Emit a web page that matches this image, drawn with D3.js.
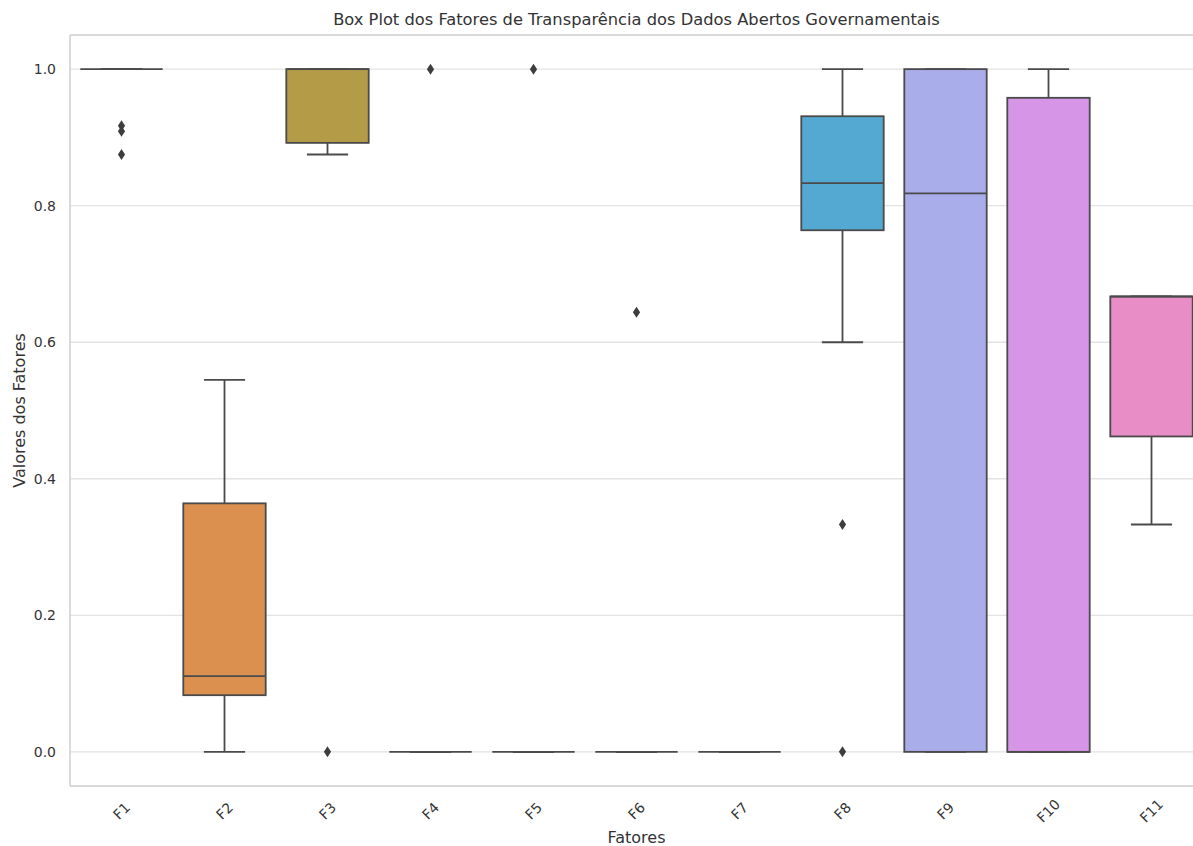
<!DOCTYPE html>
<html>
<head>
<meta charset="utf-8">
<script src="https://cdn.jsdelivr.net/npm/d3@7"></script>
<style>
  body { margin: 0; background: #fff; }
  text { font-family: "DejaVu Sans", sans-serif; fill: #333; }
</style>
</head>
<body>
<div id="chart"></div>
<script>
// box plot stats
const factors   = ["F1", "F2", "F3", "F4", "F5", "F6", "F7", "F8", "F9", "F10", "F11"];
const q1        = [1.0, 0.083, 0.892, 0, 0, 0, 0, 0.764, 0, 0, 0.462];
const medians   = [1.0, 0.111, 1.0, 0, 0, 0, 0, 0.833, 0.818, 0, 0.667];
const q3        = [1.0, 0.364, 1.0, 0, 0, 0, 0, 0.931, 1.0, 0.958, 0.667];
const whiskLo   = [1.0, 0, 0.875, 0, 0, 0, 0, 0.6, 0, 0, 0.333];
const whiskHi   = [1.0, 0.545, 1.0, 0, 0, 0, 0, 1.0, 1.0, 1.0, 0.667];
const outliers  = [[0.917, 0.909, 0.875], [], [0], [1.0], [1.0], [0.644], [], [0.333, 0], [], [], []];
const colors    = ["#e3808b", "#db904f", "#b39b48", "#8fa54a", "#4fad6e", "#53ab9d", "#51a8b8", "#53a9d1",
                   "#a9adea", "#d695e7", "#e98dc7"];
const yTicks    = [0, 0.2, 0.4, 0.6, 0.8, 1.0];

const W = 1193, H = 846;
const margin = {top: 35, left: 70, bottom: 60};
const plotRight = 1203; // axes extend past the right edge of the picture

const svg = d3.select("#chart").append("svg")
    .attr("width", W)
    .attr("height", H);

const x = d3.scaleBand()
    .domain(factors)
    .range([margin.left, plotRight])
    .paddingInner(0.2)
    .paddingOuter(0.1);

const y = d3.scaleLinear()
    .domain([-0.05, 1.05])
    .range([H - margin.bottom, margin.top]);

// grid lines
svg.append("g")
    .selectAll("line")
    .data(yTicks)
    .join("line")
    .attr("x1", margin.left)
    .attr("x2", plotRight)
    .attr("y1", d => y(d))
    .attr("y2", d => y(d))
    .attr("stroke", "#e3e3e3")
    .attr("stroke-width", 1.3);

// y tick labels
svg.append("g")
    .selectAll("text")
    .data(yTicks)
    .join("text")
    .attr("x", margin.left - 14)
    .attr("y", d => y(d))
    .attr("dy", "0.35em")
    .attr("text-anchor", "end")
    .style("font-size", "14px")
    .text(d => d.toFixed(1));

// spines
const spine = (x1, x2, y1, y2) => svg.append("line")
    .attr("x1", x1).attr("x2", x2).attr("y1", y1).attr("y2", y2)
    .attr("stroke", "#cccccc").attr("stroke-width", 1.4);
spine(margin.left, margin.left, margin.top, H - margin.bottom);
spine(margin.left, plotRight, H - margin.bottom, H - margin.bottom);
spine(margin.left, plotRight, margin.top, margin.top);

const lineCol = "#4a4a4a";
const lw = 1.8;
const bw = x.bandwidth();
const idx = d3.range(factors.length);
const cx = i => x(factors[i]) + bw / 2;

const boxes = svg.append("g")
    .selectAll("g")
    .data(idx)
    .join("g");

// whiskers
boxes.append("line")
    .attr("x1", cx).attr("x2", cx)
    .attr("y1", i => y(whiskLo[i]))
    .attr("y2", i => y(q1[i]))
    .attr("stroke", lineCol).attr("stroke-width", lw);
boxes.append("line")
    .attr("x1", cx).attr("x2", cx)
    .attr("y1", i => y(q3[i]))
    .attr("y2", i => y(whiskHi[i]))
    .attr("stroke", lineCol).attr("stroke-width", lw);

// caps
boxes.append("line")
    .attr("x1", i => x(factors[i]) + bw * 0.25)
    .attr("x2", i => x(factors[i]) + bw * 0.75)
    .attr("y1", i => y(whiskLo[i]))
    .attr("y2", i => y(whiskLo[i]))
    .attr("stroke", lineCol).attr("stroke-width", lw);
boxes.append("line")
    .attr("x1", i => x(factors[i]) + bw * 0.25)
    .attr("x2", i => x(factors[i]) + bw * 0.75)
    .attr("y1", i => y(whiskHi[i]))
    .attr("y2", i => y(whiskHi[i]))
    .attr("stroke", lineCol).attr("stroke-width", lw);

// boxes
boxes.append("rect")
    .attr("x", i => x(factors[i]))
    .attr("width", bw)
    .attr("y", i => y(q3[i]))
    .attr("height", i => y(q1[i]) - y(q3[i]))
    .attr("fill", i => colors[i])
    .attr("stroke", lineCol)
    .attr("stroke-width", lw);

// medians
boxes.append("line")
    .attr("x1", i => x(factors[i]))
    .attr("x2", i => x(factors[i]) + bw)
    .attr("y1", i => y(medians[i]))
    .attr("y2", i => y(medians[i]))
    .attr("stroke", lineCol).attr("stroke-width", lw);

// outliers as thin diamonds
const diamond = "M0,-5.5L3.6,0L0,5.5L-3.6,0Z";
const fliers = idx.flatMap(i => outliers[i].map(v => ({f: factors[i], v: v})));
svg.append("g")
    .selectAll("path")
    .data(fliers)
    .join("path")
    .attr("d", diamond)
    .attr("transform", d => "translate(" + (x(d.f) + bw / 2) + "," + y(d.v) + ")")
    .attr("fill", "#3d3d3d");

// x tick labels, rotated
svg.append("g")
    .selectAll("text")
    .data(factors)
    .join("text")
    .attr("transform", d => "translate(" + (x(d) + bw / 2) + "," + 811 + ") rotate(-45)")
    .attr("text-anchor", "middle")
    .attr("dy", "0.35em")
    .style("font-size", "14px")
    .text(d => d);

// titles
svg.append("text")
    .attr("x", (margin.left + plotRight) / 2)
    .attr("y", 25)
    .attr("text-anchor", "middle")
    .style("font-size", "16.3px")
    .text("Box Plot dos Fatores de Transparência dos Dados Abertos Governamentais");

svg.append("text")
    .attr("x", (margin.left + plotRight) / 2)
    .attr("y", 843)
    .attr("text-anchor", "middle")
    .style("font-size", "16px")
    .text("Fatores");

svg.append("text")
    .attr("transform", "translate(25," + (margin.top + H - margin.bottom) / 2 + ") rotate(-90)")
    .attr("text-anchor", "middle")
    .style("font-size", "16px")
    .text("Valores dos Fatores");
</script>
</body>
</html>
